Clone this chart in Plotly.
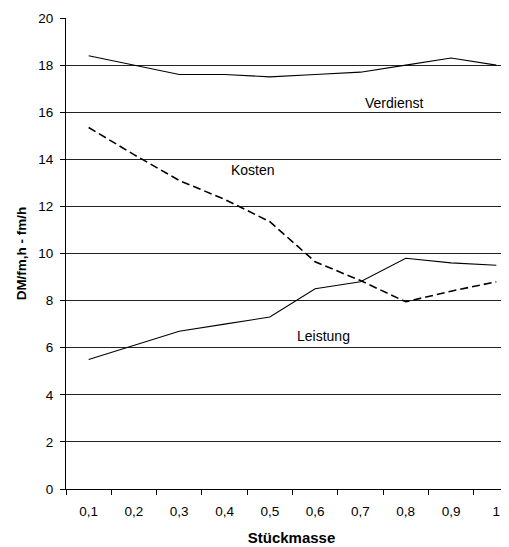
import plotly.graph_objects as go

stueckmasse = ["0,1", "0,2", "0,3", "0,4", "0,5", "0,6", "0,7", "0,8", "0,9", "1"]
verdienst = [18.4, 18.0, 17.6, 17.6, 17.5, 17.6, 17.7, 18.0, 18.3, 18.0]
kosten = [15.35, 14.2, 13.1, 12.3, 11.35, 9.65, 8.85, 7.95, 8.4, 8.8]
leistung = [5.5, 6.1, 6.7, 7.0, 7.3, 8.5, 8.8, 9.8, 9.6, 9.5]

font = "Liberation Sans, Arial, sans-serif"
idx = list(range(len(stueckmasse)))

fig = go.Figure()
fig.add_trace(go.Scatter(x=idx, y=verdienst, mode="lines",
                         line=dict(color="black", width=1.1), name="Verdienst"))
fig.add_trace(go.Scatter(x=idx, y=kosten, mode="lines",
                         line=dict(color="black", width=1.6, dash="8px,4px"), name="Kosten"))
fig.add_trace(go.Scatter(x=idx, y=leistung, mode="lines",
                         line=dict(color="black", width=1.1), name="Leistung"))

# line labels
for txt, xi, yi in [("Verdienst", 6.73, 16.4), ("Kosten", 3.62, 13.55), ("Leistung", 5.19, 6.5)]:
    fig.add_annotation(x=xi, y=yi, text=txt, showarrow=False,
                       font=dict(family=font, size=14, color="black"))

fig.update_layout(
    width=509, height=547,
    margin=dict(l=58, r=0, t=10, b=66),
    plot_bgcolor="white", paper_bgcolor="white",
    showlegend=False,
    font=dict(family=font, size=13, color="black"),
)
fig.update_xaxes(
    range=[-0.5, 9.456],
    tickvals=idx, ticktext=stueckmasse, ticks="",
    minor=dict(tickvals=[i - 0.5 for i in idx] + [len(idx) - 0.5],
               ticks="outside", ticklen=5, tickcolor="black", showgrid=False),
    showline=True, linecolor="black", linewidth=1,
    showgrid=False, zeroline=False,
    tickfont=dict(size=13.5), ticklabelstandoff=10,
    title=dict(text="<b>Stückmasse</b>", font=dict(size=15), standoff=14),
)
fig.update_yaxes(
    range=[0, 20], dtick=2, tickformat="d",
    ticks="outside", ticklen=5, tickcolor="black",
    showline=True, linecolor="black", linewidth=1,
    showgrid=True, gridcolor="#222222", gridwidth=1, zeroline=False,
    tickfont=dict(size=13.5), ticklabelstandoff=4,
    title=dict(text="<b>DM/fm,h - fm/h</b>", font=dict(size=13.5), standoff=8),
)

fig.write_html("out.html")
